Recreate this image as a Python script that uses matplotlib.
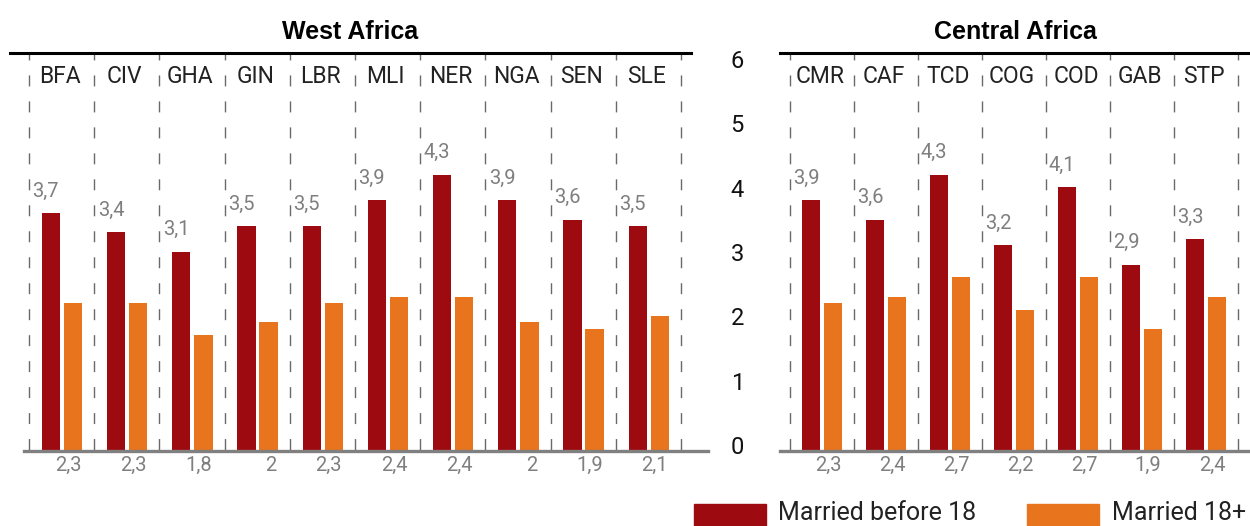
import matplotlib
matplotlib.use("Agg")
import matplotlib.pyplot as plt
from matplotlib.patches import Rectangle
from matplotlib.transforms import ScaledTranslation, blended_transform_factory
import numpy as np

plt.rcParams["font.family"] = ["Roboto", "DejaVu Sans"]
plt.rcParams["lines.scale_dashes"] = False

west = ["BFA", "CIV", "GHA", "GIN", "LBR", "MLI", "NER", "NGA", "SEN", "SLE"]
west_before18 = [3.7, 3.4, 3.1, 3.5, 3.5, 3.9, 4.3, 3.9, 3.6, 3.5]
west_after18 = [2.3, 2.3, 1.8, 2.0, 2.3, 2.4, 2.4, 2.0, 1.9, 2.1]

central = ["CMR", "CAF", "TCD", "COG", "COD", "GAB", "STP"]
central_before18 = [3.9, 3.6, 4.3, 3.2, 4.1, 2.9, 3.3]
central_after18 = [2.3, 2.4, 2.7, 2.2, 2.7, 1.9, 2.4]

RED = "#9D0B11"
ORANGE = "#E8751E"
GREY = "#7a7a7a"
W, H = 1250, 526
PX_UNIT = 64.3
YTOP = (451 - 53) / PX_UNIT

fig = plt.figure(figsize=(W / 100, H / 100), dpi=100)


def fmt(v):
    return f"{v:g}".replace(".", ",")


def panel(rect, xlim, title, names, before, after, top_span, bottom_span):
    ax = fig.add_axes(rect)
    ax.set_xlim(*xlim)
    ax.set_ylim(0, YTOP)
    for s in ax.spines.values():
        s.set_visible(False)
    ax.set_xticks([])
    ax.set_yticks([])
    ax.patch.set_alpha(0)

    x = np.arange(len(names))
    bw = 0.28
    ax.bar(x - 0.165, before, bw, color=RED, zorder=3)
    ax.bar(x + 0.175, after, bw, color=ORANGE, zorder=3)

    # dashed separators, drawn from the top down
    seps = np.arange(len(names) + 1) - 0.5
    ax.vlines(seps, YTOP, 0, colors="#6a6a6a", lw=1.0,
              linestyles=[(2.9, (7.9, 10.8))], zorder=1)

    ax.axhline(YTOP, *top_span, color="black", lw=2.2, clip_on=False, zorder=4)
    ax.axhline(0, *bottom_span, color="#808080", lw=2.4, clip_on=False, zorder=4)

    for i, name in enumerate(names):
        ax.text(i - 0.03, 5.82, name, ha="center", va="center",
                fontsize=16.5, color="#222222")
        ax.text(i - 0.04, before[i] + 0.34, fmt(before[i]), ha="right",
                va="center", fontsize=14.5, color="#7f7f7f")
        ax.text(i + 0.175 + bw / 2 - 0.015, -0.22, fmt(after[i]), ha="right",
                va="center", fontsize=14.5, color="#7f7f7f", clip_on=False)

    cx = (top_span[0] + top_span[1]) / 2
    ax.text(cx, YTOP + 21 / PX_UNIT, title,
            transform=blended_transform_factory(ax.transAxes, ax.transData),
            ha="center", va="center", fontsize=18, fontweight="bold",
            family=["Liberation Sans", "DejaVu Sans"], color="black", clip_on=False)
    return ax


# left panel: separators at px 29 + 65.2*k
lu = 65.2
ax1 = panel([10 / W, 1 - 451 / H, 698 / W, 398 / H],
            (-0.5 - 19 / lu, -0.5 + 679 / lu), "West Africa",
            west, west_before18, west_after18,
            (0, 681 / 698), (14 / 698, 1))

# right panel: separators at px 790 + 64*k
ru = 64.0
ax2 = panel([780 / W, 1 - 451 / H, 470 / W, 398 / H],
            (-0.5 - 10 / ru, -0.5 + 460 / ru), "Central Africa",
            central, central_before18, central_after18,
            (0, 1), (0, 1))

# y scale between the panels
ax2.set_yticks(range(7))
ax2.set_yticklabels([str(v) for v in range(7)], fontsize=17, color="#111111")
ax2.tick_params(axis="y", length=0, pad=26)
for lab in ax2.get_yticklabels():
    lab.set_transform(lab.get_transform() + ScaledTranslation(0, 6 / 100, fig.dpi_scale_trans))

# legend
for (x0, label, tx, col) in [(694, "Married before 18", 778, RED),
                             (1027, "Married 18+", 1112, ORANGE)]:
    fig.add_artist(Rectangle((x0 / W, 1 - 526 / H), 72 / W, 22 / H,
                             transform=fig.transFigure, color=col, clip_on=False))
    fig.text(tx / W, 1 - 520 / H, label, ha="left", va="baseline",
             fontsize=18, color="#222222")

fig.savefig("out.png", dpi=100)
